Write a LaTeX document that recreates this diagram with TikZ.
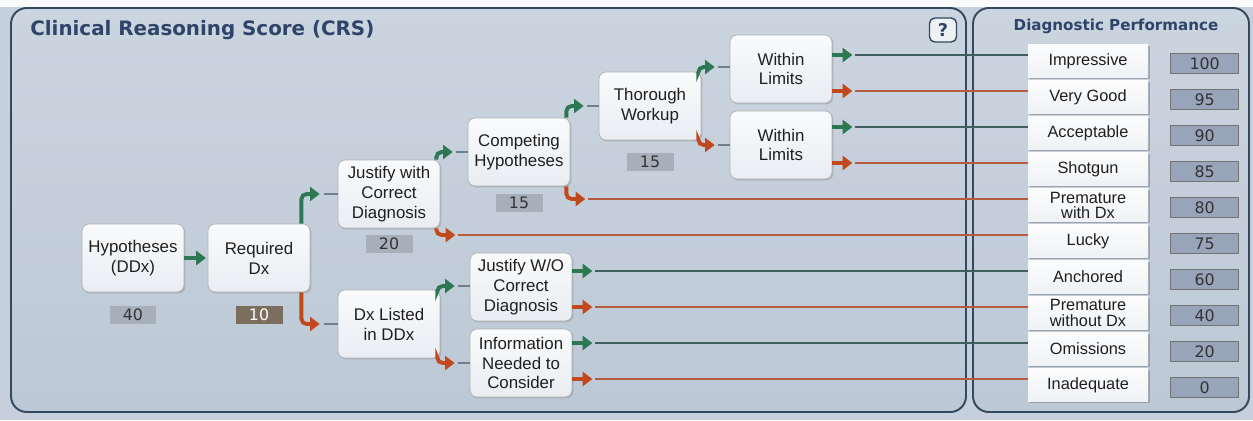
\documentclass[tikz,border=0pt]{standalone}
\usepackage{fontspec}
\setmainfont{Liberation Sans}
\newfontfamily\headfont{DejaVu Sans}
\usepackage{tikz}
\usetikzlibrary{positioning,calc,arrows.meta,shadows}

\definecolor{panelbg}{HTML}{C5D0DC}
\definecolor{paneltop}{HTML}{CBD5E0}
\definecolor{panelbot}{HTML}{BCC8D5}
\definecolor{panelrule}{HTML}{34495E}
\definecolor{headblue}{HTML}{2E4468}
\definecolor{yesgreen}{HTML}{2E7753}
\definecolor{nored}{HTML}{C2481E}
\definecolor{passline}{HTML}{3F605E}
\definecolor{failline}{HTML}{B75A3E}
\definecolor{stubgray}{HTML}{6E7E8C}
\definecolor{scoregray}{HTML}{A7AFBB}
\definecolor{scorebrown}{HTML}{7B6E5F}
\definecolor{valuefill}{HTML}{98A4B9}

\tikzset{
    stage/.style={rectangle, rounded corners=4pt, draw=gray!60, top color=white!90!panelbg,
        bottom color=white!62!panelbg, minimum width=2.04cm, minimum height=1.36cm, align=center,
        inner sep=1pt, font=\fontsize{9.6}{11.3}\selectfont, text=black!88,
        drop shadow={shadow xshift=0.8pt, shadow yshift=-0.8pt, opacity=0.35}},
    stagescore/.style={rectangle, fill=scoregray, minimum width=0.94cm, minimum height=0.36cm,
        inner sep=0pt, font=\headfont\fontsize{9}{9}\selectfont, text=black!80},
    grade/.style={rectangle, minimum width=2.4cm, minimum height=0.66cm, top color=white!94!panelbg,
        bottom color=white!72!panelbg, align=center, inner sep=0pt,
        font=\fontsize{9.3}{8.6}\selectfont, text=black!88,
        drop shadow={shadow xshift=0.9pt, shadow yshift=-1.1pt, opacity=0.55}},
    gradeval/.style={rectangle, draw=black!55, fill=valuefill, minimum width=1.36cm,
        minimum height=0.4cm, inner sep=0pt, font=\headfont\fontsize{9}{9}\selectfont, text=black!80},
    helpbox/.style={rectangle, rounded corners=3pt, draw=panelrule, line width=0.8pt, fill=white!70!panelbg,
        minimum width=0.54cm, minimum height=0.48cm, inner sep=0pt,
        font=\headfont\bfseries\fontsize{10}{10}\selectfont, text=headblue},
    passarrow/.style={draw=yesgreen, line width=2.2pt, rounded corners=3pt, -{Triangle[length=5.5pt,width=8pt]}},
    failarrow/.style={passarrow, draw=nored},
    stub/.style={draw=stubgray, line width=0.8pt},
    passwire/.style={draw=passline, line width=0.9pt},
    failwire/.style={draw=failline, line width=0.9pt}
}

\begin{document}
\begin{tikzpicture}[x=0.02cm, y=-0.02cm]
    \useasboundingbox (0,0) rectangle (1253,420);
    \fill[panelbg] (0,0) rectangle (1253,420);
    \fill[white!90!panelbg] (0,0) rectangle (1253,7);
    \draw[panelrule, line width=1.1pt, rounded corners=9pt, top color=paneltop, bottom color=panelbot] (11,8) rectangle (966,412);
    \draw[panelrule, line width=1.1pt, rounded corners=9pt, top color=paneltop, bottom color=panelbot] (973,8) rectangle (1249,412);

    \node[anchor=base west, inner sep=0pt, text=headblue, font=\headfont\bfseries\fontsize{11.3}{13}\selectfont] (crs) at (30,35) {Clinical Reasoning Score (CRS)};
    \node[anchor=base, inner sep=0pt, text=headblue, font=\headfont\bfseries\fontsize{8.6}{10}\selectfont] (dxperf) at (1116,30) {Diagnostic Performance};
    \node[helpbox] (help) at (943,30) {?};

    \node[stage] (hyp) at (133,258) {Hypotheses\\(DDx)};
    \node[stage] (req) at (259,258) {Required\\Dx};
    \node[stage] (jcd) at (389,194) {Justify with\\Correct\\Diagnosis};
    \node[stage] (dxl) at (389,324) {Dx Listed\\in DDx};
    \node[stage] (cmp) at (519,152) {Competing\\Hypotheses};
    \node[stage] (thw) at (650,106) {Thorough\\Workup};
    \node[stage] (wl1) at (781,69) {Within\\Limits};
    \node[stage] (wl2) at (781,145) {Within\\Limits};
    \node[stage] (jwo) at (521,287) {Justify W/O\\Correct\\Diagnosis};
    \node[stage] (inf) at (521,363) {Information\\Needed to\\Consider};

    \node[stagescore, below=0.26cm of hyp] (hyps) {40};
    \node[stagescore, fill=scorebrown, text=white, below=0.26cm of req] (reqs) {10};
    \node[stagescore, below=0.12cm of jcd] (jcds) {20};
    \node[stagescore, below=0.14cm of cmp] (cmps) {15};
    \node[stagescore, below=0.24cm of thw] (thws) {15};

    \node[grade] (imp) at (1088,61) {Impressive};
    \node[grade] (vgd) at (1088,97) {Very Good};
    \node[grade] (acc) at (1088,133) {Acceptable};
    \node[grade] (shg) at (1088,169) {Shotgun};
    \node[grade] (pwd) at (1088,205) {Premature\\with Dx};
    \node[grade] (lck) at (1088,241) {Lucky};
    \node[grade] (anc) at (1088,277) {Anchored};
    \node[grade] (pwo) at (1088,313) {Premature\\without Dx};
    \node[grade] (oms) at (1088,349) {Omissions};
    \node[grade] (inq) at (1088,385) {Inadequate};

    \node[gradeval, right=0.44cm of imp, yshift=-1.5pt] (impv) {100};
    \node[gradeval, right=0.44cm of vgd, yshift=-1.5pt] (vgdv) {95};
    \node[gradeval, right=0.44cm of acc, yshift=-1.5pt] (accv) {90};
    \node[gradeval, right=0.44cm of shg, yshift=-1.5pt] (shgv) {85};
    \node[gradeval, right=0.44cm of pwd, yshift=-1.5pt] (pwdv) {80};
    \node[gradeval, right=0.44cm of lck, yshift=-1.5pt] (lckv) {75};
    \node[gradeval, right=0.44cm of anc, yshift=-1.5pt] (ancv) {60};
    \node[gradeval, right=0.44cm of pwo, yshift=-1.5pt] (pwov) {40};
    \node[gradeval, right=0.44cm of oms, yshift=-1.5pt] (omsv) {20};
    \node[gradeval, right=0.44cm of inq, yshift=-1.5pt] (inqv) {0};

    \draw[passarrow, shorten >=1pt] (hyp) -- (req);

    \draw[passarrow] ($(req.north east)+(-9,0)$) |- ($(jcd.west)+(-18,0)$) coordinate (reqp);
    \draw[stub] ($(reqp)+(4,0)$) -- (reqp -| jcd.west);
    \draw[failarrow] ($(req.south east)+(-9,0)$) |- ($(dxl.west)+(-18,0)$) coordinate (reqf);
    \draw[stub] ($(reqf)+(4,0)$) -- (reqf -| dxl.west);

    \draw[passarrow] ($(jcd.north east)+(-4,0)$) |- ($(cmp.west)+(-15,0)$) coordinate (jcdp);
    \draw[stub] ($(jcdp)+(3,0)$) -- (jcdp -| cmp.west);
    \draw[failarrow] ($(jcd.south east)+(-4,0)$) |- ($(jcd.east |- lck.west)+(15,-6)$) coordinate (jcdf);
    \draw[failwire] ($(jcdf)+(3,0)$) -- (jcdf -| lck.west);

    \draw[passarrow] ($(cmp.north east)+(-4,0)$) |- ($(thw.west)+(-15,0)$) coordinate (cmpp);
    \draw[stub] ($(cmpp)+(3,0)$) -- (cmpp -| thw.west);
    \draw[failarrow] ($(cmp.south east)+(-4,0)$) |- ($(cmp.east |- pwd.west)+(15,-6)$) coordinate (cmpf);
    \draw[failwire] ($(cmpf)+(3,0)$) -- (cmpf -| pwd.west);

    \draw[passarrow] ($(thw.north east)+(-3,0)$) |- ($(wl1.west)+(-15,-2)$) coordinate (thwp);
    \draw[stub] ($(thwp)+(3,0)$) -- (thwp -| wl1.west);
    \draw[failarrow] ($(thw.south east)+(-3,0)$) |- ($(wl2.west)+(-15,0)$) coordinate (thwf);
    \draw[stub] ($(thwf)+(3,0)$) -- (thwf -| wl2.west);

    \draw[passarrow] ($(dxl.north east)+(-3,0)$) |- ($(jwo.west)+(-15,-1)$) coordinate (dxlp);
    \draw[stub] ($(dxlp)+(3,0)$) -- (dxlp -| jwo.west);
    \draw[failarrow] ($(dxl.south east)+(-3,0)$) |- ($(inf.west)+(-15,0)$) coordinate (dxlf);
    \draw[stub] ($(dxlf)+(3,0)$) -- (dxlf -| inf.west);

    \draw[passarrow] ($(wl1.east |- imp.west)+(0,-6)$) -- ++(20,0) coordinate (wl1p);
    \draw[passwire] ($(wl1p)+(3,0)$) -- (wl1p -| imp.west);
    \draw[failarrow] ($(wl1.east |- vgd.west)+(0,-6)$) -- ++(20,0) coordinate (wl1f);
    \draw[failwire] ($(wl1f)+(3,0)$) -- (wl1f -| vgd.west);
    \draw[passarrow] ($(wl2.east |- acc.west)+(0,-6)$) -- ++(20,0) coordinate (wl2p);
    \draw[passwire] ($(wl2p)+(3,0)$) -- (wl2p -| acc.west);
    \draw[failarrow] ($(wl2.east |- shg.west)+(0,-6)$) -- ++(20,0) coordinate (wl2f);
    \draw[failwire] ($(wl2f)+(3,0)$) -- (wl2f -| shg.west);

    \draw[passarrow] ($(jwo.east |- anc.west)+(0,-6)$) -- ++(20,0) coordinate (jwop);
    \draw[passwire] ($(jwop)+(3,0)$) -- (jwop -| anc.west);
    \draw[failarrow] ($(jwo.east |- pwo.west)+(0,-6)$) -- ++(20,0) coordinate (jwof);
    \draw[failwire] ($(jwof)+(3,0)$) -- (jwof -| pwo.west);
    \draw[passarrow] ($(inf.east |- oms.west)+(0,-6)$) -- ++(20,0) coordinate (infp);
    \draw[passwire] ($(infp)+(3,0)$) -- (infp -| oms.west);
    \draw[failarrow] ($(inf.east |- inq.west)+(0,-6)$) -- ++(20,0) coordinate (inff);
    \draw[failwire] ($(inff)+(3,0)$) -- (inff -| inq.west);
\end{tikzpicture}
\end{document}
